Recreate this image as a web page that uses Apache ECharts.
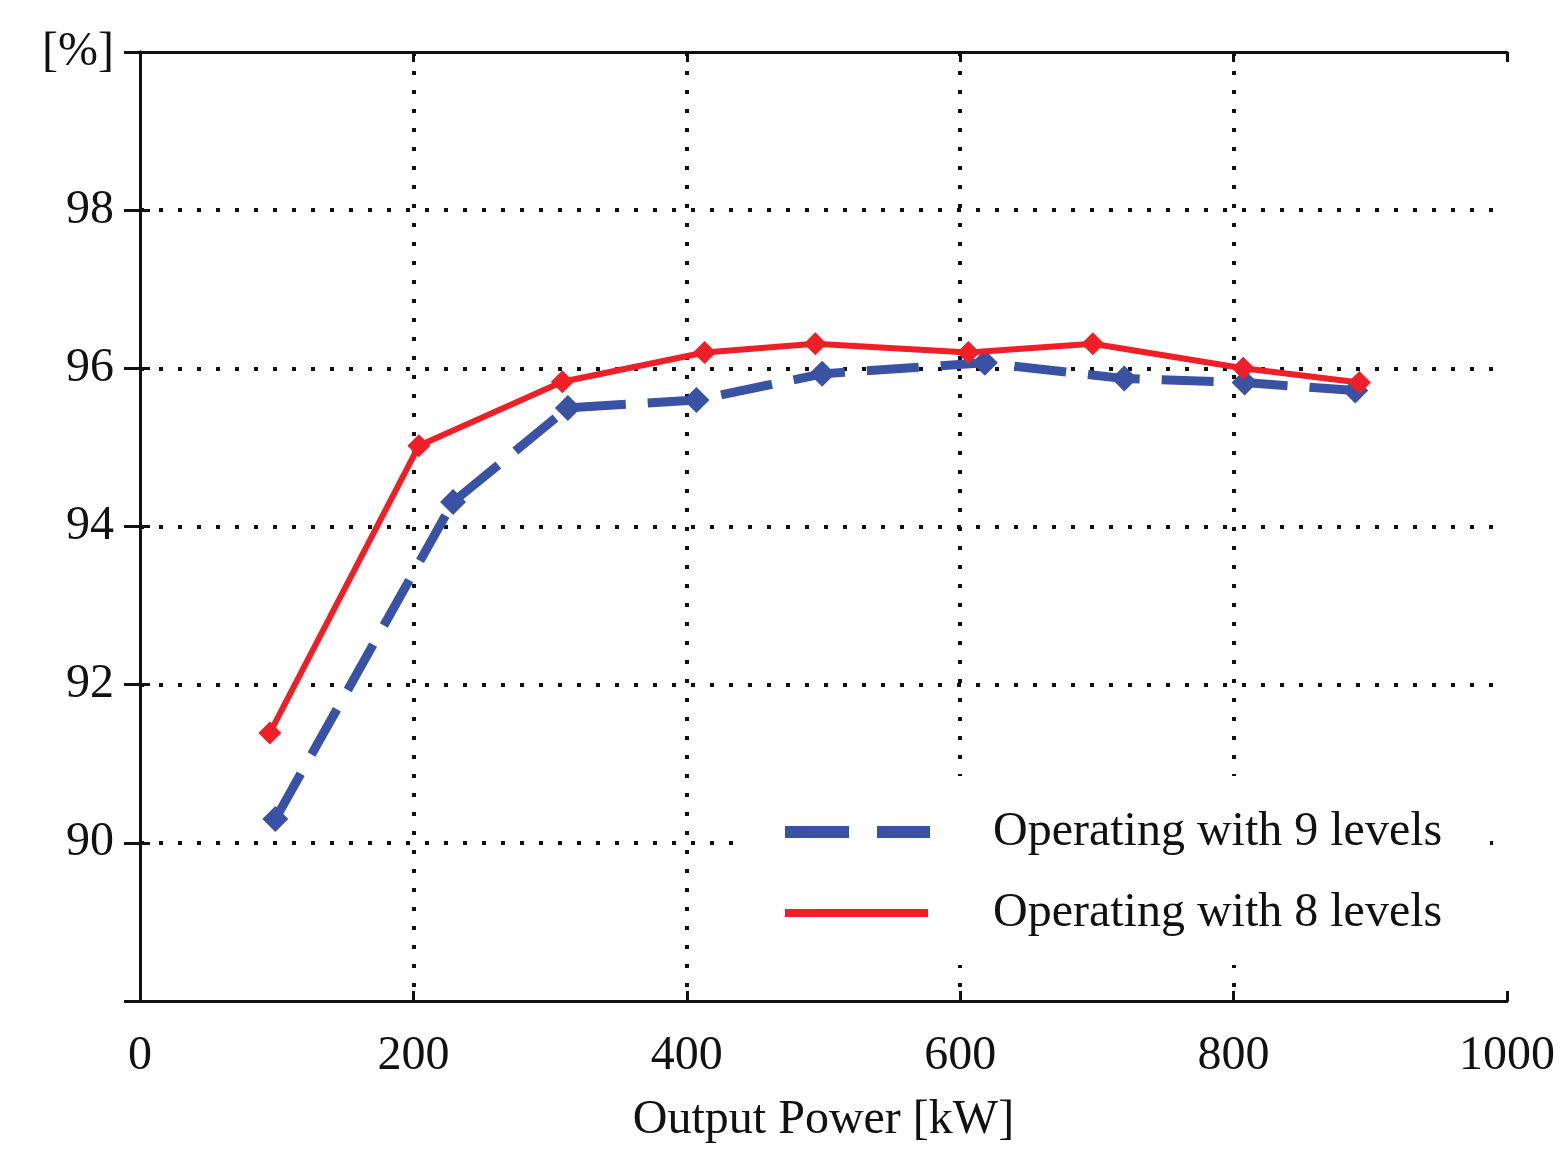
<!DOCTYPE html>
<html>
<head>
<meta charset="utf-8">
<script src="https://cdn.jsdelivr.net/npm/echarts@6/dist/echarts.min.js"></script>
<style>html,body{margin:0;padding:0;background:#fff;overflow:hidden}#c{width:1562px;height:1149px}</style>
</head>
<body>
<div id="c"></div>
<script>
const xTicks = [0, 200, 400, 600, 800, 1000];
const yTicks = [90, 92, 94, 96, 98];
const yUnitLabel = '[%]';
const xTitle = 'Output Power [kW]';
const name9 = 'Operating with 9 levels';
const name8 = 'Operating with 8 levels';
const power9 = [99, 229, 313, 407, 499, 618, 720, 808, 889];
const eff9 = [90.3, 94.31, 95.5, 95.6, 95.93, 96.07, 95.87, 95.82, 95.72];
const power8 = [95, 204, 309, 413, 494, 606, 697, 807, 892];
const eff8 = [91.39, 95.02, 95.83, 96.2, 96.31, 96.2, 96.31, 96.0, 95.82];

const FONT = 'Liberation Serif';
const FS = 48;
const BLUE = '#3a52a4';
const RED = '#ee1f26';
const chart = echarts.init(document.getElementById('c'));
const grid = {left: 140, right: 55, top: 52, bottom: 141};
const dotted = {color: '#111', width: 4, type: [4, 15]};
const frame = {show: true, lineStyle: {color: '#111', width: 3}};

chart.setOption({
  animation: false,
  backgroundColor: '#fff',
  grid: grid,
  xAxis: [{
    type: 'value', min: 0, max: 1000, interval: 200,
    axisLine: frame,
    axisTick: {show: true, inside: true, length: 10, lineStyle: {color: '#111', width: 3}},
    axisLabel: {margin: 31, fontFamily: FONT, fontSize: FS, color: '#111',
      formatter: v => xTicks.includes(v) ? String(v) : ''},
    splitLine: {show: true, showMinLine: false, showMaxLine: false, lineStyle: dotted},
    name: xTitle, nameLocation: 'middle', nameGap: 95,
    nameTextStyle: {fontFamily: FONT, fontSize: FS, color: '#111'}
  }, {
    type: 'value', position: 'top', min: 0, max: 1000, interval: 200,
    axisLine: frame, axisTick: {show: true, inside: true, length: 10, lineStyle: {color: '#111', width: 3}},
    axisLabel: {show: false}, splitLine: {show: false}
  }],
  yAxis: [{
    type: 'value', min: 88, max: 100, interval: 2,
    axisLine: frame,
    axisTick: {show: true, inside: true, length: 10, lineStyle: {color: '#111', width: 3}},
    axisLabel: {margin: 26, fontFamily: FONT, fontSize: FS, color: '#111',
      formatter: v => v === 100 ? yUnitLabel : (yTicks.includes(v) ? String(v) : '')},
    splitLine: {show: true, showMinLine: false, showMaxLine: false, lineStyle: dotted}
  }, {
    type: 'value', position: 'right', min: 88, max: 100, interval: 2,
    axisLine: frame, axisTick: {show: true, inside: true, length: 16, lineStyle: {color: '#111', width: 3}},
    axisLabel: {show: false}, splitLine: {show: false}
  }],
  series: [{
    name: name9, type: 'line', z: 3,
    data: power9.map((p, i) => [p, eff9[i]]),
    symbol: 'diamond', symbolSize: 26,
    itemStyle: {color: BLUE},
    lineStyle: {color: BLUE, width: 9, type: [52, 22]}
  }, {
    name: name8, type: 'line', z: 4,
    data: power8.map((p, i) => [p, eff8[i]]),
    symbol: 'diamond', symbolSize: 23,
    itemStyle: {color: RED},
    lineStyle: {color: RED, width: 6}
  }],
  graphic: [
    {type: 'rect', z: 50, shape: {x: 748, y: 776, width: 742, height: 189}, style: {fill: '#fff'}},
    {type: 'line', z: 51, shape: {x1: 785, y1: 832, x2: 930, y2: 832},
      style: {stroke: BLUE, lineWidth: 12, lineDash: [64, 28]}},
    {type: 'line', z: 51, shape: {x1: 785, y1: 913, x2: 928, y2: 913},
      style: {stroke: RED, lineWidth: 8}},
    {type: 'text', z: 51, left: 993, top: 832 - 24, style: {text: name9, font: FS + 'px "' + FONT + '"', fill: '#111'}},
    {type: 'text', z: 51, left: 993, top: 913 - 24, style: {text: name8, font: FS + 'px "' + FONT + '"', fill: '#111'}}
  ]
});
</script>
</body>
</html>
